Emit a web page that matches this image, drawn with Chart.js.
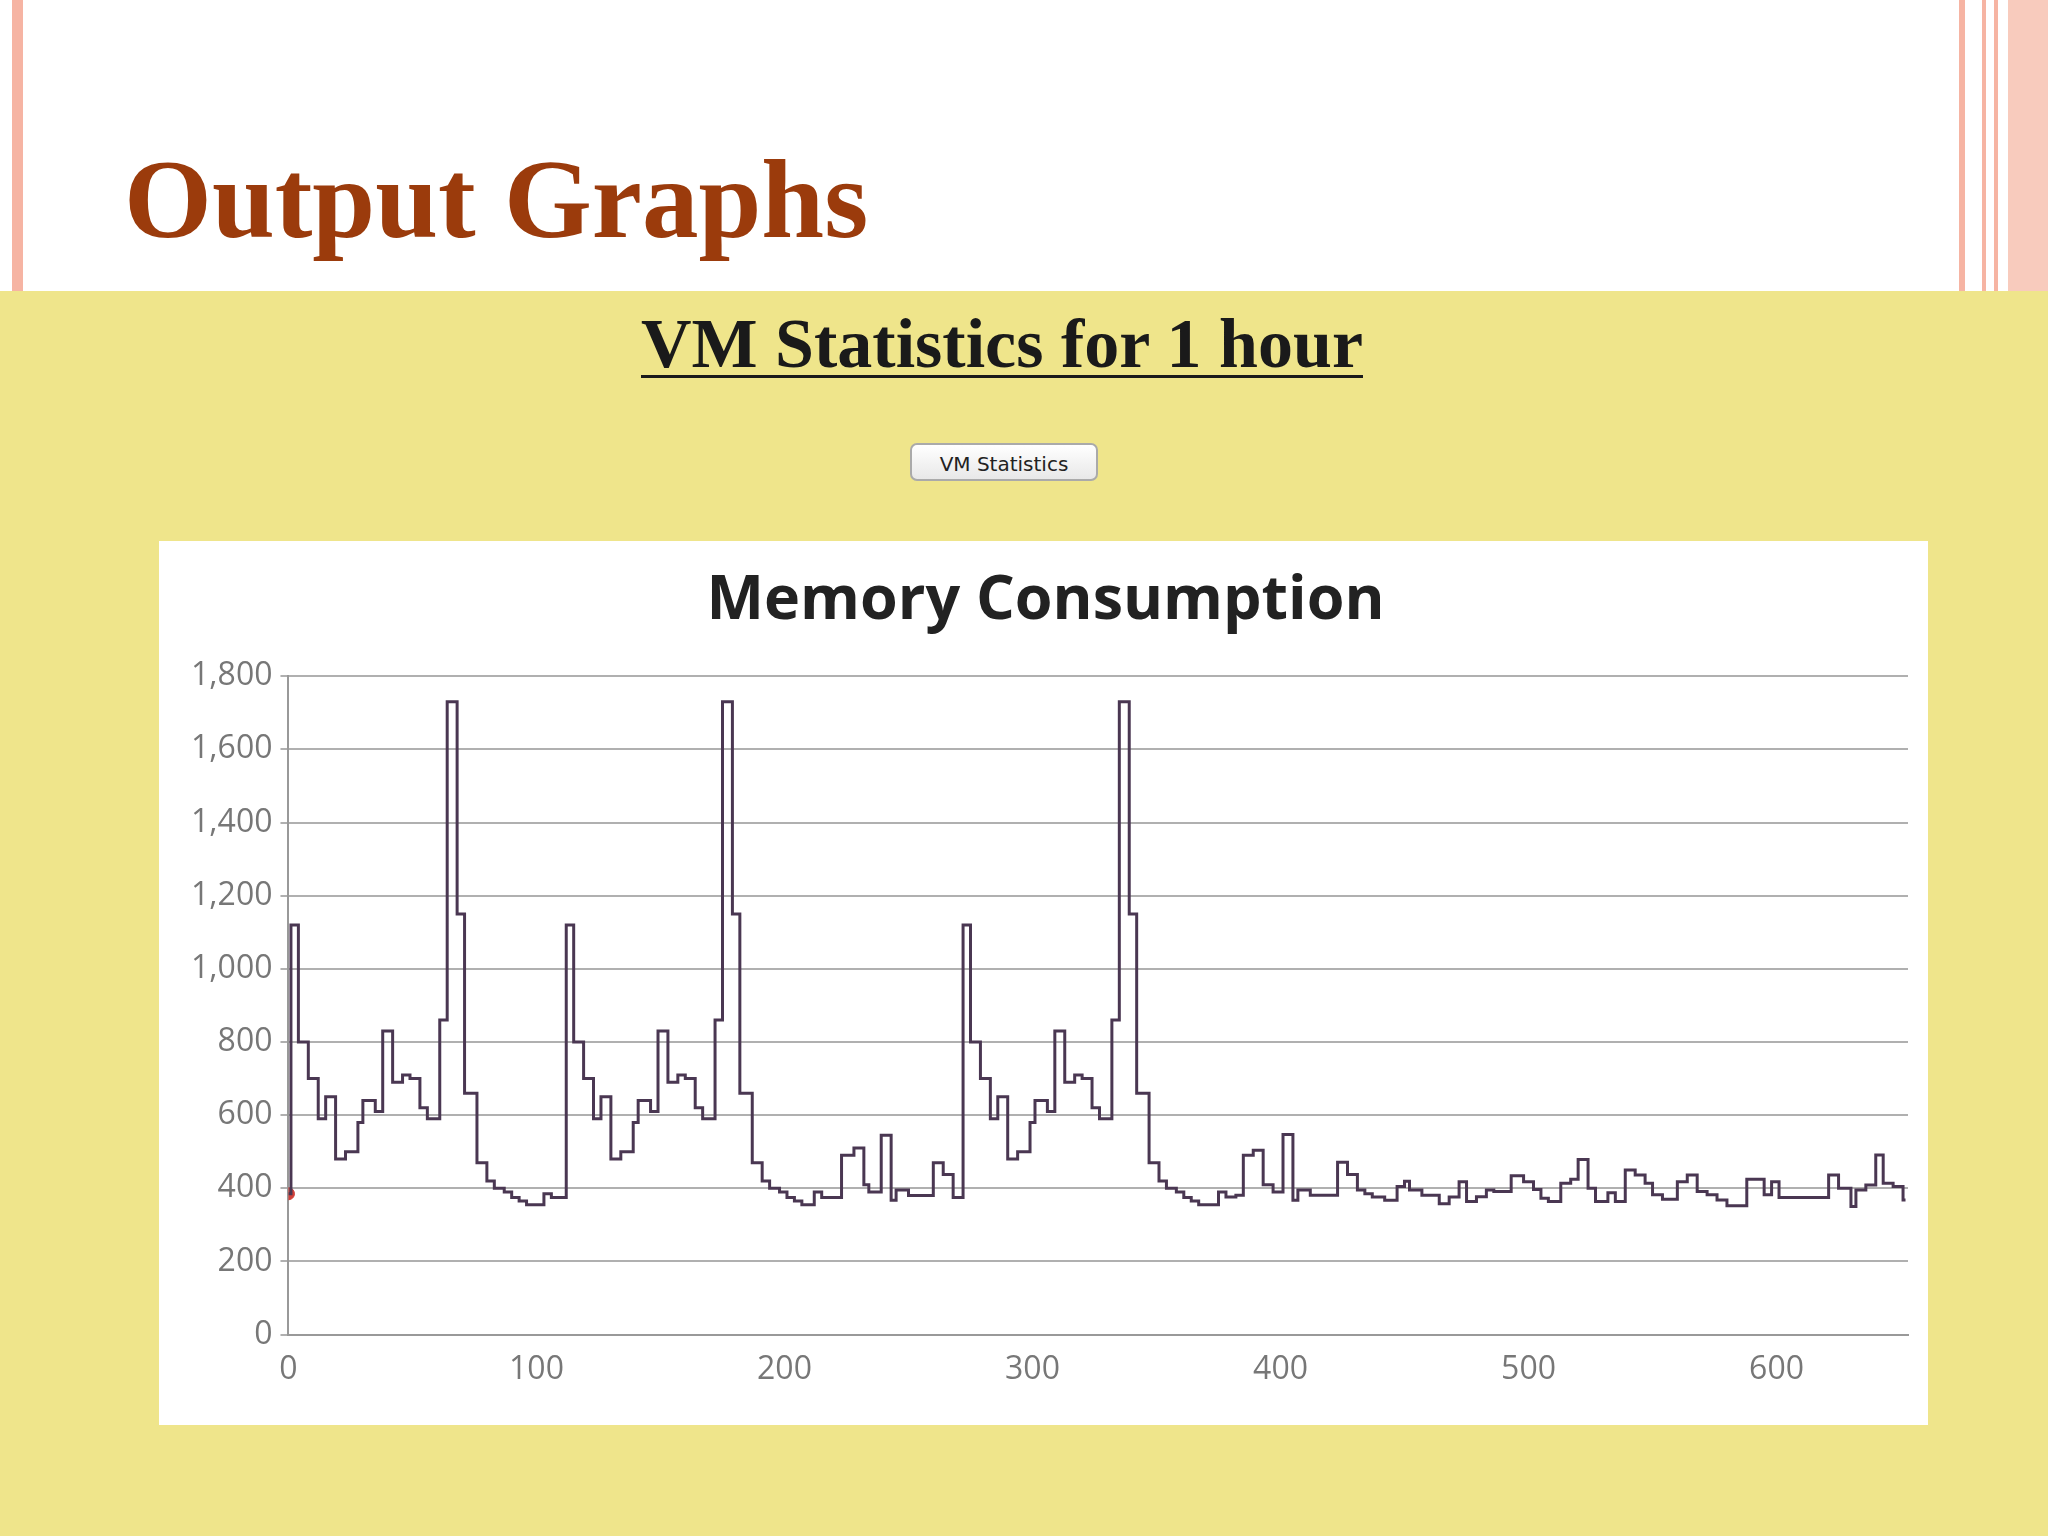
<!DOCTYPE html>
<html>
<head>
<meta charset="utf-8">
<script src="https://cdn.jsdelivr.net/npm/chart.js@4"></script>
<style>
  body { margin: 0; width: 2048px; height: 1536px; position: relative; background: #fff; overflow: hidden; font-family: "Liberation Serif", serif; }
  .stripe { position: absolute; top: 0; height: 291px; background: #f6b4a3; }
  .slide-title { position: absolute; left: 124px; top: 134px; font-size: 113px; font-weight: bold; color: #9b3b0c; }
  .yellow { position: absolute; left: 0; top: 291px; width: 2048px; height: 1245px; background: #efe58b; }
  .heading { position: absolute; left: -22px; width: 2048px; top: 304px; text-align: center; font-size: 70px; font-weight: bold; color: #1a1a1a; }
  .heading span { text-decoration: underline; text-decoration-thickness: 3px; text-underline-offset: 8px; }
  .btn { position: absolute; left: 910px; top: 443px; width: 188px; height: 38px; border: 2px solid #aaa; border-radius: 7px; background: linear-gradient(#fff, #e8e8e8); font-family: "DejaVu Sans", sans-serif; font-size: 20px; text-align: center; line-height: 38px; color: #222; box-sizing: border-box; }
  .box { position: absolute; left: 159px; top: 541px; width: 1769px; height: 884px; background: #fff; }
</style>
</head>
<body>
<div class="stripe" style="left:12px;width:11px;"></div>
<div class="stripe" style="left:1959px;width:6px;"></div>
<div class="stripe" style="left:1982px;width:4px;"></div>
<div class="stripe" style="left:1994px;width:4px;"></div>
<div class="stripe" style="left:2008px;width:40px;background:#f8cbbd;"></div>
<div class="slide-title">Output Graphs</div>
<div class="yellow"></div>
<div class="heading"><span>VM Statistics for 1 hour</span></div>
<div class="btn">VM Statistics</div>
<div class="box"><canvas id="c" width="1769" height="884"></canvas></div>
<script>
// step change points (time, memory)
const times = [0, 1, 4, 8, 12, 15, 19, 23, 28, 30, 35, 38, 42, 46, 49, 53, 56, 61, 64, 68, 71, 76, 80, 83, 87, 90, 93, 96, 103, 106,
  112, 115, 119, 123, 126, 130, 134, 139, 141, 146, 149, 153, 157, 160, 164, 167, 172, 175, 179, 182, 187, 191, 194, 198, 201, 204, 207,
  212, 215, 223, 228, 232, 234, 239, 243, 245, 250, 260, 264, 268,
  272, 275, 279, 283, 286, 290, 294, 299, 301, 306, 309, 313, 317, 320, 324, 327, 332, 335, 339, 342, 347, 351, 354, 358, 361, 364, 367,
  375, 378, 382, 385, 389, 393, 397, 401, 405, 407, 412, 423, 427, 431, 434, 437, 442, 447, 450, 452, 457, 464, 468,
  472, 475, 479, 483, 486, 493, 498, 502, 505, 508, 513, 517, 520, 524, 527, 532, 535, 539, 543, 547, 550, 554, 560, 564, 568,
  572, 576, 580, 588, 595, 598, 601, 621, 625, 630, 632, 636, 640, 643, 647, 651, 652];
const memory = [385, 1120, 800, 700, 590, 650, 480, 500, 580, 640, 610, 830, 690, 710, 700, 620, 590, 860, 1730, 1150, 660, 470, 420, 400, 390, 375, 365, 355, 385, 375,
  1120, 800, 700, 590, 650, 480, 500, 580, 640, 610, 830, 690, 710, 700, 620, 590, 860, 1730, 1150, 660, 470, 420, 400, 390, 375, 365, 355,
  390, 375, 490, 510, 410, 390, 545, 367, 395, 380, 470, 438, 375,
  1120, 800, 700, 590, 650, 480, 500, 580, 640, 610, 830, 690, 710, 700, 620, 590, 860, 1730, 1150, 660, 470, 420, 400, 390, 375, 365, 355,
  390, 376, 381, 490, 504, 410, 390, 547, 367, 395, 381, 471, 438, 395, 385, 376, 367, 405, 419, 395, 381, 358, 376,
  418, 364, 377, 395, 391, 434, 418, 397, 373, 364, 414, 425, 479, 400, 364, 388, 364, 450, 436, 414, 382, 370, 418, 436, 391,
  382, 368, 352, 425, 382, 418, 375, 436, 400, 350, 395, 409, 491, 414, 405, 368, 368];
const xTicks = [0, 100, 200, 300, 400, 500, 600];

const points = times.map((t, i) => ({ x: t, y: memory[i] }));

new Chart(document.getElementById('c'), {
  type: 'line',
  data: {
    datasets: [
      { data: points, stepped: true, borderColor: '#4a3752', borderWidth: 3, pointRadius: 0, fill: false },
      { data: [points[0]], borderColor: '#d0403a', backgroundColor: '#d0403a', pointRadius: 6, showLine: false }
    ]
  },
  options: {
    responsive: false,
    animation: false,
    layout: { padding: { left: 24, right: 20, top: 0, bottom: 28 } },
    plugins: {
      legend: { display: false },
      tooltip: { enabled: false },
      title: {
        display: true, text: 'Memory Consumption', color: '#222',
        font: { family: 'Open Sans', size: 61, weight: 'bold' }, padding: { top: 24, bottom: 38 }
      }
    },
    scales: {
      x: {
        type: 'linear', min: 0, max: 653,
        afterBuildTicks: s => { s.ticks = xTicks.map(v => ({ value: v })); },
        grid: { display: false, drawTicks: true },
        border: { color: '#999', width: 2 },
        ticks: { color: '#777', font: { family: 'Open Sans', size: 32 }, padding: 8 }
      },
      y: {
        min: 0, max: 1800,
        ticks: { stepSize: 200, color: '#777', font: { family: 'Open Sans', size: 32 }, padding: 8,
          callback: v => v.toLocaleString('en-US') },
        grid: { color: '#b0b0b0', lineWidth: 2, tickLength: 8 },
        border: { color: '#999', width: 2 }
      }
    }
  }
});
</script>
</body>
</html>
